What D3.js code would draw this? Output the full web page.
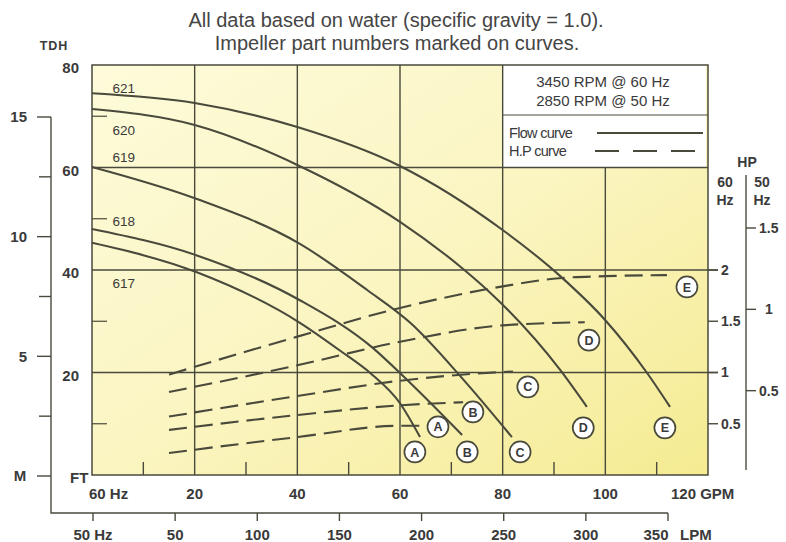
<!DOCTYPE html>
<html><head><meta charset="utf-8">
<script src="https://cdn.jsdelivr.net/npm/d3@7"></script>
<style>
html,body{margin:0;padding:0;background:#fff;}
svg{display:block;font-family:"Liberation Sans",Arial,Helvetica,sans-serif;}
</style></head>
<body>
<svg id="chart" width="786" height="542"></svg>
<script>
// ---- Data ----
const impellers = ["621","620","619","618","617"];
const flow621 = [[0,74.5],[20,72.6],[40,67.9],[60,60.3],[80,47.8],[91,39.0],[100,30.2],[108,20.1],[112.6,13.3]];
const flow620 = [[0,71.4],[20,68.3],[40,60.5],[60,49.4],[72.3,40.2],[77,36.1],[91.2,20.5],[96.4,13.3]];
const flow619 = [[0,60.1],[20.3,53.9],[40.5,45.1],[53.6,36.1],[62,29.7],[72,19],[81.8,7.4]];
const flow618 = [[0,48.0],[20.3,42.9],[40.5,34.1],[54.7,24.8],[60.4,19.5],[72.1,7.8]];
const flow617 = [[0,45.3],[20.3,39.6],[40.5,29.7],[48.7,24.0],[54.2,19.9],[60,14.0],[63.9,7.4]];
const flowCurves = [flow621, flow620, flow619, flow618, flow617];
const curveLabelFt = [75.5, 67.3, 61.9, 49.6, 37.5];

// HP curves (60 Hz horsepower vs GPM)
const hpE = [[15,0.98],[40,1.35],[60,1.63],[80,1.84],[91,1.92],[100,1.94],[112,1.95]];
const hpD = [[15,0.81],[40,1.07],[60,1.30],[80,1.46],[96,1.49]];
const hpC = [[15,0.57],[40,0.77],[60,0.92],[75,0.99],[82,1.01]];
const hpB = [[15,0.44],[40,0.585],[60,0.68],[72.3,0.71]];
const hpA = [[15,0.215],[40,0.37],[60,0.48],[64.3,0.48]];
const hpCurves = [hpE, hpD, hpC, hpB, hpA];

// circle markers: letter, GPM, FT
const hpMarkers = [["A",67.4,9.4],["B",74.2,12.3],["C",84.9,17.2],["D",96.8,26.3],["E",115.9,36.7]];
const flowMarkers = [["A",62.9,4.5],["B",73.1,4.5],["C",83.4,4.5],["D",95.7,9.2],["E",111.6,9.2]];

const gpmTicks = [20,40,60,80,100];
const gpmMinor = [10,30,50,70,90,110];
const ftTicks = [80,60,40,20];
const ftMinor = [70,50,30,10];
const meterTicks = [15,10,5];
const meterMinor = [12.5,7.5,2.5];
const lpmTicks = [0,50,100,150,200,250,300,350];
const lpmLabels = ["50 Hz","50","100","150","200","250","300","350"];
const hp60Ticks = [2,1.5,1,0.5];
const hp50Ticks = [1.5,1,0.5];

// ---- Scales ----
const x = d3.scaleLinear().domain([0,120]).range([92,708]);
const y = d3.scaleLinear().domain([0,80]).range([475,65]);
const yM = d3.scaleLinear().domain([0,15]).range([476,117]);
const xL = d3.scaleLinear().domain([0,350]).range([93,668]);
const yH60 = d3.scaleLinear().domain([0,2]).range([475,270]);
const yH50 = d3.scaleLinear().domain([0,1.5]).range([472,228]);

const svg = d3.select("#chart");
const ink = "#4a4a3c";
const txt = "#3a3a3a";
const AX = 15;

const defs = svg.append("defs");
const grad = defs.append("linearGradient").attr("id","bg").attr("x1","0").attr("y1","0").attr("x2","1").attr("y2","1");
grad.append("stop").attr("offset","0%").attr("stop-color","#fdfbda");
grad.append("stop").attr("offset","50%").attr("stop-color","#fbf5c2");
grad.append("stop").attr("offset","100%").attr("stop-color","#f5eb92");

// Title
svg.append("text").attr("x",396).attr("y",27).attr("text-anchor","middle").attr("font-size",20).attr("fill","#454545")
  .text("All data based on water (specific gravity = 1.0).");
svg.append("text").attr("x",397).attr("y",50).attr("text-anchor","middle").attr("font-size",20).attr("fill","#454545")
  .text("Impeller part numbers marked on curves.");

// plot background
svg.append("rect").attr("x",x(0)).attr("y",y(80)).attr("width",x(120)-x(0)).attr("height",y(0)-y(80)).attr("fill","url(#bg)");

// Legend box (white)
svg.append("rect").attr("x",x(80)).attr("y",y(80)).attr("width",x(120)-x(80)-2).attr("height",y(60)-y(80)).attr("fill","#fff");

const g = svg.append("g").attr("stroke",ink).attr("fill","none");
[60,40,20].forEach(v=>{
  g.append("line").attr("x1",x(0)).attr("x2",v===60?x(120):x(120)+10).attr("y1",y(v)).attr("y2",y(v)).attr("stroke-width",1.4);
});
gpmTicks.forEach(v=>{
  g.append("line").attr("x1",x(v)).attr("x2",x(v)).attr("y1",v===100?y(60):y(80)).attr("y2",y(0)).attr("stroke-width",1.4);
});
g.append("rect").attr("x",x(0)).attr("y",y(80)).attr("width",x(120)-x(0)).attr("height",y(0)-y(80)).attr("stroke-width",1.5);
g.append("line").attr("x1",x(80)).attr("x2",x(120)).attr("y1",115).attr("y2",115).attr("stroke-width",1.2);
gpmMinor.forEach(v=>{
  g.append("line").attr("x1",x(v)).attr("x2",x(v)).attr("y1",y(0)).attr("y2",y(0)-13).attr("stroke-width",1.4);
});
ftMinor.forEach(v=>{
  g.append("line").attr("x1",x(0)).attr("x2",x(0)+15).attr("y1",y(v)).attr("y2",y(v)).attr("stroke-width",1.2);
});

// Flow curves
const lineF = d3.line().x(d=>x(d[0])).y(d=>y(d[1])).curve(d3.curveMonotoneX);
flowCurves.forEach(c=>{
  svg.append("path").datum(c).attr("d",lineF).attr("fill","none").attr("stroke",ink).attr("stroke-width",2.1);
});
// HP curves
const lineH = d3.line().x(d=>x(d[0])).y(d=>yH60(d[1])).curve(d3.curveMonotoneX);
hpCurves.forEach(c=>{
  svg.append("path").datum(c).attr("d",lineH).attr("fill","none").attr("stroke",ink).attr("stroke-width",2.1).attr("stroke-dasharray","18,8");
});

// curve labels
impellers.forEach((t,i)=>{
  svg.append("text").attr("x",x(4.0)).attr("y",y(curveLabelFt[i])).attr("dy","0.35em").attr("font-size",13.5).attr("fill",txt).text(t);
});

// markers
function marker(m){
  const gg = svg.append("g").attr("transform",`translate(${x(m[1])},${y(m[2])})`);
  gg.append("circle").attr("r",10.5).attr("fill","#fff").attr("stroke",ink).attr("stroke-width",1.7);
  gg.append("text").attr("text-anchor","middle").attr("dy","0.37em").attr("font-size",12.5).attr("font-weight","bold").attr("fill",txt).text(m[0]);
}
hpMarkers.forEach(marker);
flowMarkers.forEach(marker);

// Legend text
svg.append("text").attr("x",603).attr("y",87).attr("text-anchor","middle").attr("font-size",15).attr("fill",txt).text("3450 RPM @ 60 Hz");
svg.append("text").attr("x",603).attr("y",106).attr("text-anchor","middle").attr("font-size",15).attr("fill",txt).text("2850 RPM @ 50 Hz");
svg.append("text").attr("x",509).attr("y",138).attr("font-size",14.5).attr("letter-spacing","-0.7").attr("fill",txt).text("Flow curve");
svg.append("text").attr("x",509).attr("y",156).attr("font-size",14.5).attr("letter-spacing","-0.7").attr("fill",txt).text("H.P curve");
svg.append("line").attr("x1",597).attr("x2",703).attr("y1",133).attr("y2",133).attr("stroke",ink).attr("stroke-width",2);
svg.append("line").attr("x1",595).attr("x2",705).attr("y1",151).attr("y2",151).attr("stroke",ink).attr("stroke-width",2).attr("stroke-dasharray","24,14");

// FT axis labels
svg.append("text").attr("x",54).attr("y",50).attr("font-size",12.5).attr("letter-spacing","1").attr("font-weight","bold").attr("text-anchor","middle").attr("fill",txt).text("TDH");
ftTicks.forEach(v=>{
  svg.append("text").attr("x",79).attr("y",y(v)+3).attr("dy","0.35em").attr("text-anchor","end").attr("font-size",AX).attr("font-weight","bold").attr("fill",txt).text(v);
});
svg.append("text").attr("x",70).attr("y",483).attr("font-size",AX).attr("font-weight","bold").attr("fill",txt).text("FT");

// Meter axis
const ga = svg.append("g").attr("stroke",ink).attr("fill","none").attr("stroke-width",1.4);
ga.append("path").attr("d",`M51,${yM(15)}V513H${xL(350)}`);
meterTicks.concat([0]).forEach(v=>{
  ga.append("line").attr("x1",37).attr("x2",51).attr("y1",yM(v)).attr("y2",yM(v));
});
meterMinor.forEach(v=>{
  ga.append("line").attr("x1",39).attr("x2",51).attr("y1",yM(v)).attr("y2",yM(v));
});
meterTicks.forEach(v=>{
  svg.append("text").attr("x",27).attr("y",yM(v)).attr("dy","0.35em").attr("text-anchor","end").attr("font-size",AX).attr("font-weight","bold").attr("fill",txt).text(v);
});
svg.append("text").attr("x",20).attr("y",yM(0)).attr("dy","0.35em").attr("text-anchor","middle").attr("font-size",AX).attr("font-weight","bold").attr("fill",txt).text("M");

// GPM labels
svg.append("text").attr("x",89).attr("y",499).attr("font-size",AX).attr("font-weight","bold").attr("fill",txt).text("60 Hz");
gpmTicks.forEach(v=>{
  svg.append("text").attr("x",x(v)).attr("y",499).attr("text-anchor","middle").attr("font-size",AX).attr("font-weight","bold").attr("fill",txt).text(v);
});
svg.append("text").attr("x",671).attr("y",499).attr("font-size",AX).attr("font-weight","bold").attr("fill",txt).text("120 GPM");

// LPM axis
lpmTicks.forEach((v,i)=>{
  ga.append("line").attr("x1",xL(v)).attr("x2",xL(v)).attr("y1",513).attr("y2",521);
  svg.append("text").attr("x",i===lpmTicks.length-1?xL(v)-12:xL(v)).attr("y",540).attr("text-anchor","middle").attr("font-size",AX).attr("font-weight","bold").attr("fill",txt).text(lpmLabels[i]);
});
svg.append("text").attr("x",680).attr("y",540).attr("font-size",AX).attr("font-weight","bold").attr("fill",txt).text("LPM");

// HP axes
svg.append("text").attr("x",747).attr("y",167).attr("text-anchor","middle").attr("font-size",14).attr("font-weight","bold").attr("fill",txt).text("HP");
svg.append("text").attr("x",725).attr("y",187).attr("text-anchor","middle").attr("font-size",14).attr("font-weight","bold").attr("fill",txt).text("60");
svg.append("text").attr("x",725).attr("y",205).attr("text-anchor","middle").attr("font-size",14).attr("font-weight","bold").attr("fill",txt).text("Hz");
svg.append("text").attr("x",762).attr("y",187).attr("text-anchor","middle").attr("font-size",14).attr("font-weight","bold").attr("fill",txt).text("50");
svg.append("text").attr("x",762).attr("y",205).attr("text-anchor","middle").attr("font-size",14).attr("font-weight","bold").attr("fill",txt).text("Hz");
ga.append("line").attr("x1",746).attr("x2",746).attr("y1",175).attr("y2",470);
hp60Ticks.forEach(v=>{
  ga.append("line").attr("x1",708).attr("x2",718).attr("y1",yH60(v)).attr("y2",yH60(v));
  svg.append("text").attr("x",721).attr("y",yH60(v)).attr("dy","0.35em").attr("font-size",14).attr("font-weight","bold").attr("fill",txt).text(v);
});
hp50Ticks.forEach(v=>{
  ga.append("line").attr("x1",746).attr("x2",756).attr("y1",yH50(v)).attr("y2",yH50(v));
  svg.append("text").attr("x",v===1?765:759).attr("y",yH50(v)).attr("dy","0.35em").attr("font-size",14).attr("font-weight","bold").attr("fill",txt).text(v);
});
</script>
</body></html>
